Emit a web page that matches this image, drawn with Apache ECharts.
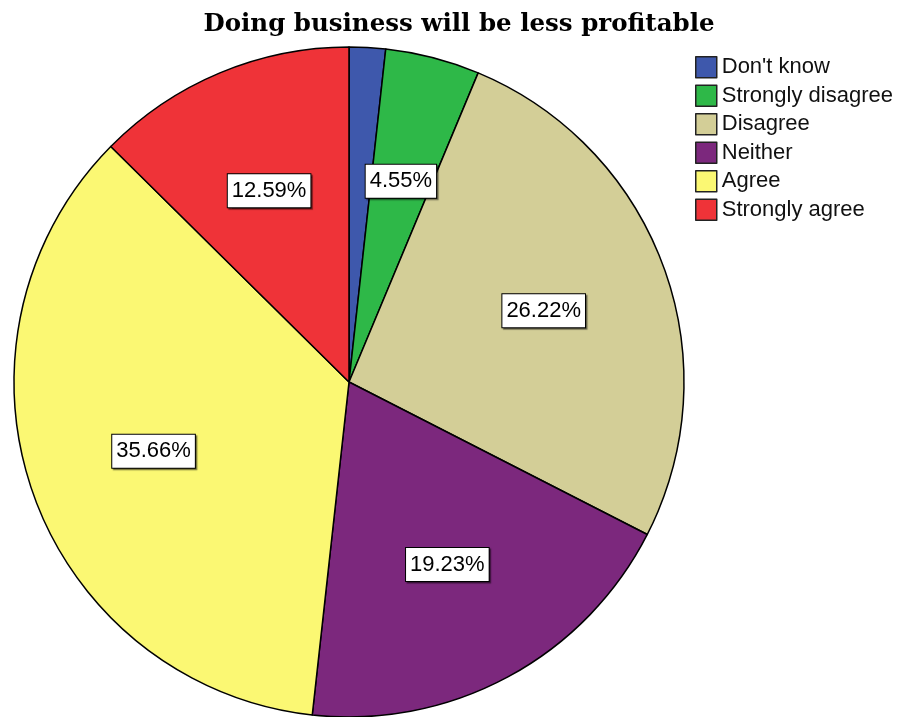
<!DOCTYPE html>
<html>
<head>
<meta charset="utf-8">
<script src="https://cdn.jsdelivr.net/npm/echarts@6/dist/echarts.min.js"></script>
<style>
  html, body { margin: 0; padding: 0; background: #fff; }
  #chart { width: 904px; height: 717px; }
</style>
</head>
<body>
<div id="chart"></div>
<script>
// Survey responses, percent of respondents
const categories = ['Don\'t know', 'Strongly disagree', 'Disagree', 'Neither', 'Agree', 'Strongly agree'];
const percents = [1.75, 4.55, 26.22, 19.23, 35.66, 12.59];
const colors = ['#3E58AC', '#2EB848', '#D3CE97', '#7C287D', '#FBF873', '#EF3338'];

const slices = categories.map((name, i) => ({
  name,
  value: percents[i],
  itemStyle: { color: colors[i] }
}));

const chart = echarts.init(document.getElementById('chart'));

const centre = [349, 382];
const pieRadius = 335;

chart.setOption({
  animation: false,
  title: {
    text: 'Doing business will be less profitable',
    left: 459,
    textAlign: 'center',
    top: 12,
    padding: 0,
    textStyle: {
      fontFamily: 'DejaVu Serif',
      fontWeight: 'bold',
      fontSize: 24.5,
      color: '#000'
    }
  },
  legend: {
    orient: 'vertical',
    left: 695,
    top: 56,
    padding: 0,
    icon: 'rect',
    itemWidth: 21,
    itemHeight: 21,
    itemGap: 6,
    data: categories,
    itemStyle: { borderColor: '#222', borderWidth: 1.5 },
    textStyle: {
      fontFamily: 'Liberation Sans',
      fontSize: 22,
      lineHeight: 22,
      color: '#111'
    }
  },
  series: [
    {
      type: 'pie',
      center: centre,
      radius: pieRadius,
      startAngle: 90,
      clockwise: true,
      silent: true,
      itemStyle: { borderColor: '#000', borderWidth: 1.5 },
      label: { show: false },
      labelLine: { show: false },
      data: slices
    },
    {
      // transparent twin used only to place the value boxes further out
      type: 'pie',
      center: centre,
      radius: pieRadius * 1.22,
      startAngle: 90,
      clockwise: true,
      silent: true,
      minShowLabelAngle: 10,
      itemStyle: { color: 'rgba(0,0,0,0)', borderWidth: 0 },
      label: {
        show: true,
        position: 'inside',
        formatter: p => p.value.toFixed(2) + '%',
        fontFamily: 'Liberation Sans',
        fontSize: 22,
        color: '#000',
        backgroundColor: '#fff',
        borderColor: '#000',
        borderWidth: 1,
        padding: [6, 4, 5, 4],
        shadowColor: 'rgba(0,0,0,0.45)',
        shadowBlur: 1,
        shadowOffsetX: 1.5,
        shadowOffsetY: 1.5
      },
      labelLine: { show: false },
      data: categories.map((name, i) => ({ name, value: percents[i] }))
    }
  ]
});
</script>
</body>
</html>
